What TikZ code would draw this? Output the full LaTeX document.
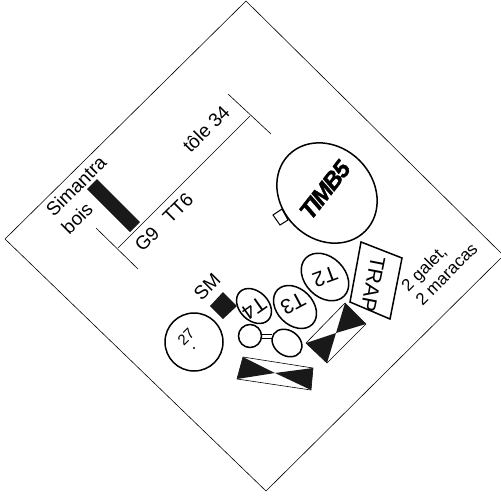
\documentclass[tikz,border=0pt]{standalone}
\usepackage{fontspec}
\setmainfont{Liberation Sans}
\newfontfamily\timbfont[BoldItalicFeatures={FakeBold=1.5},LetterSpace=-6]{Liberation Sans}
\usetikzlibrary{calc,shapes.geometric}
\tikzset{
  wall/.style={draw, line width=0.6pt},
  ring/.style={draw, line width=1.5pt, inner sep=0pt},
  label/.style={font=\fontsize{19}{21}\selectfont, inner sep=0pt},
  drum label/.style={font=\fontsize{21}{23}\selectfont, inner sep=0pt},
  small label/.style={font=\fontsize{17}{20}\selectfont, inner sep=0pt},
}
\begin{document}
\begin{tikzpicture}[x=1pt,y=-1pt]
  \useasboundingbox (0,0) rectangle (501,504);

  % Room outline
  \draw[wall] (5,239) -- (246,1) -- (501,253);
  \draw[wall] (5,239) -- (266,491) -- (501,258);

  % Stage line
  \coordinate (stageL) at (118,248);
  \coordinate (stageR) at (250,116);
  \draw[wall] (stageL) -- (stageR);
  \draw[wall] (96,228) -- (138,269);
  \draw[wall] (228,94) -- (271,134);

  % Bar
  \fill[black!90] (87,189) -- (97,179) -- (140,222) -- (130,232) -- cycle;

  % Top labels
  \node[label, rotate=45] at (76,186) {Simantra};
  \node[label, rotate=45] at (77,218) {bois};
  \node[label, rotate=45] at (206,129) {tôle 34};
  \node[label, rotate=45] at (147,239) {G9};
  \node[label, rotate=45] at (178,208) {TT6};

  % Big drum
  \node[ring, ellipse, minimum width=108pt, minimum height=92pt, rotate=-45] (timb) at (327,193) {};
  \node[rotate=52, font=\fontsize{24}{26}\timbfont\bfseries\itshape, inner sep=0pt] at (325,190) {TIMB5};
  \draw[line width=1pt] (273,215) -- (282,209) -- (288,220) -- (280,225) -- cycle;

  % Small drums
  \node[ring, ellipse, minimum width=54pt, minimum height=40pt, rotate=-45] (ttwo) at (325,277) {};
  \node[drum label, rotate=-160] at (325,277) {T2};
  \node[ring, ellipse, minimum width=49pt, minimum height=36pt, rotate=-45] (tthree) at (295,307) {};
  \node[drum label, rotate=-152] at (293,304) {T3};
  \node[ring, ellipse, minimum width=40pt, minimum height=29pt, rotate=-45] (tfour) at (254,306) {};
  \node[drum label, rotate=-145] at (254,308) {T4};

  % Trap
  \draw[ring] (361,242) -- (402,258) -- (390,319) -- (350,302) -- cycle;
  \node[drum label, rotate=-101] at (373,284) {TRAP};
  \node[small label, rotate=45, align=left, anchor=west] at (411,295) {2 galet,\\2 maracas};

  % SM
  \node[label, rotate=45] at (207,287) {SM};
  \fill[black!90] (223,292) -- (237,306) -- (223,319) -- (210,306) -- cycle;
  \node[ring, circle, minimum width=58pt] (gong) at (194,342) {};
  \node[font=\fontsize{15}{16}\selectfont, rotate=45, inner sep=0pt] at (186,337) {27};
  \fill (194,348) circle (1.2pt);

  % Cymbals
  \node[ring, circle, minimum width=23pt] (cymA) at (250,336) {};
  \node[ring, ellipse, minimum width=32pt, minimum height=25pt, rotate=-35] (cymB) at (287,343) {};
  \draw[line width=1pt] (cymA.east) ++(0,-2) -- ++(10,0);
  \draw[line width=1pt] (cymA.east) ++(0,2) -- ++(10,0);

  % Boxes with crossed fill
  \draw[wall] (306,343) -- (345,303) -- (366,324) -- (327,363) -- cycle;
  \fill[black!90] (306,343) -- (327,363) -- (336,333) -- cycle;
  \fill[black!90] (345,303) -- (366,324) -- (336,333) -- cycle;
  \draw[wall] (243,357) -- (313,368) -- (311,390) -- (237,379) -- cycle;
  \fill[black!90] (243,357) -- (237,379) -- (275,373) -- cycle;
  \fill[black!90] (313,368) -- (311,390) -- (275,373) -- cycle;
\end{tikzpicture}
\end{document}
